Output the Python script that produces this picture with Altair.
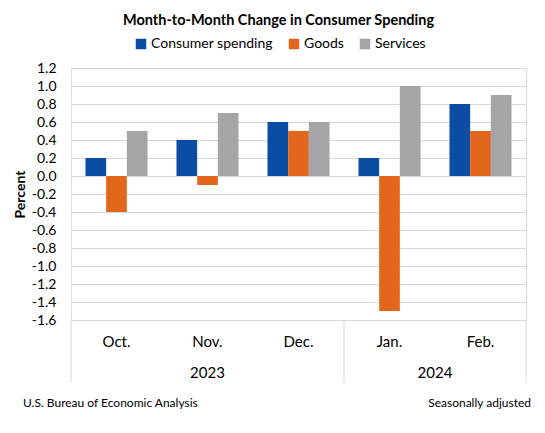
import altair as alt
import pandas as pd

months = ["Oct.", "Nov.", "Dec.", "Jan.", "Feb."]
years = ["2023", "2023", "2023", "2024", "2024"]
series_names = ["Consumer spending", "Goods", "Services"]
consumer = [0.2, 0.4, 0.6, 0.2, 0.8]
goods = [-0.4, -0.1, 0.5, -1.5, 0.5]
services = [0.5, 0.7, 0.6, 1.0, 0.9]
colors = ["#0B4DA2", "#E2661C", "#A5A5A5"]
y_ticks = [1.2, 1.0, 0.8, 0.6, 0.4, 0.2, 0.0, -0.2, -0.4, -0.6, -0.8, -1.0, -1.2, -1.4, -1.6]

FONT = "Lato"
GRID = "#D9D9D9"

rows = []
for i, m in enumerate(months):
    for s, vals in zip(series_names, [consumer, goods, services]):
        rows.append({"month": m, "year": years[i], "series": s, "value": vals[i]})
df = pd.DataFrame(rows)

xscale = alt.Scale(paddingInner=0, paddingOuter=0)
x_axis = alt.Axis(title=None, labelAngle=0, ticks=False, domain=False,
                  labelPadding=14, labelFontSize=15, labelFont=FONT,
                  labelColor="#000000", grid=False)

bars = alt.Chart(df).mark_bar().encode(
    x=alt.X("month:N", sort=months, scale=xscale, axis=x_axis, title=None),
    xOffset=alt.XOffset("series:N", sort=series_names,
                        scale=alt.Scale(paddingOuter=0.7, paddingInner=0)),
    y=alt.Y("value:Q", scale=alt.Scale(domain=[-1.6, 1.2], nice=False, zero=False),
            axis=alt.Axis(values=y_ticks, title="Percent",
                          labelExpr="replace(format(datum.value, '.1f'), '\u2212', '-')",
                          grid=True, gridColor=GRID, gridWidth=1, domain=False, ticks=False,
                          labelPadding=15, labelFontSize=14, labelFont=FONT, labelColor="#000000",
                          titleFont=FONT, titleFontSize=14, titleFontWeight="bold",
                          titleColor="#000000", titleX=-51, titleY=126, titleAngle=270,
                          titleBaseline="middle", titleAlign="center")),
    color=alt.Color("series:N", sort=series_names,
                    scale=alt.Scale(domain=series_names, range=colors),
                    legend=alt.Legend(orient="none", legendX=63, legendY=-31,
                                      direction="horizontal", title=None,
                                      symbolType="square", symbolSize=110,
                                      symbolStrokeWidth=0, labelFontSize=14,
                                      labelFont=FONT, labelColor="#000000",
                                      labelOffset=3, columnPadding=14, padding=0)),
)

rule_df0 = pd.DataFrame({"month": ["Oct.", "Jan."]})
rule_df1 = pd.DataFrame({"month": ["Feb."]})
rules0 = alt.Chart(rule_df0).mark_rule(color=GRID, strokeWidth=1).encode(
    x=alt.X("month:N", sort=months, bandPosition=0, axis=x_axis, title=None),
    y=alt.value(252), y2=alt.value(315))
rules1 = alt.Chart(rule_df1).mark_rule(color=GRID, strokeWidth=1).encode(
    x=alt.X("month:N", sort=months, bandPosition=1, axis=x_axis, title=None),
    y=alt.value(252), y2=alt.value(315))

y2023 = pd.DataFrame({"month": ["Nov."], "label": ["2023"]})
y2024 = pd.DataFrame({"month": ["Feb."], "label": ["2024"]})
yt1 = alt.Chart(y2023).mark_text(font=FONT, fontSize=15, color="#000000", baseline="middle").encode(
    x=alt.X("month:N", sort=months, bandPosition=0.5, axis=x_axis, title=None),
    y=alt.value(305), text="label:N")
yt2 = alt.Chart(y2024).mark_text(font=FONT, fontSize=15, color="#000000", baseline="middle").encode(
    x=alt.X("month:N", sort=months, bandPosition=0, axis=x_axis, title=None),
    y=alt.value(305), text="label:N")

foot_l = alt.Chart(pd.DataFrame({"t": ["U.S. Bureau of Economic Analysis"]})).mark_text(
    font=FONT, fontSize=12, color="#000000", align="left", baseline="middle").encode(
    x=alt.value(-48), y=alt.value(335), text="t:N")
foot_r = alt.Chart(pd.DataFrame({"t": ["Seasonally adjusted"]})).mark_text(
    font=FONT, fontSize=12, color="#000000", align="right", baseline="middle").encode(
    x=alt.value(460), y=alt.value(335), text="t:N")

chart = alt.layer(bars, rules0, rules1, yt1, yt2, foot_l, foot_r).properties(
    width=455, height=252,
    autosize=alt.AutoSizeParams(type="none"),
    padding={"left": 63, "top": 60, "right": 11, "bottom": 105},
    title=alt.Title("Month-to-Month Change in Consumer Spending", anchor="middle",
                    dx=-20, offset=9, fontSize=14.5, font=FONT, fontWeight="bold",
                    color="#000000"),
).configure_view(stroke=None).configure(background="#FFFFFF")

chart.save("out.html", embed_options={"renderer": "svg", "actions": False})
